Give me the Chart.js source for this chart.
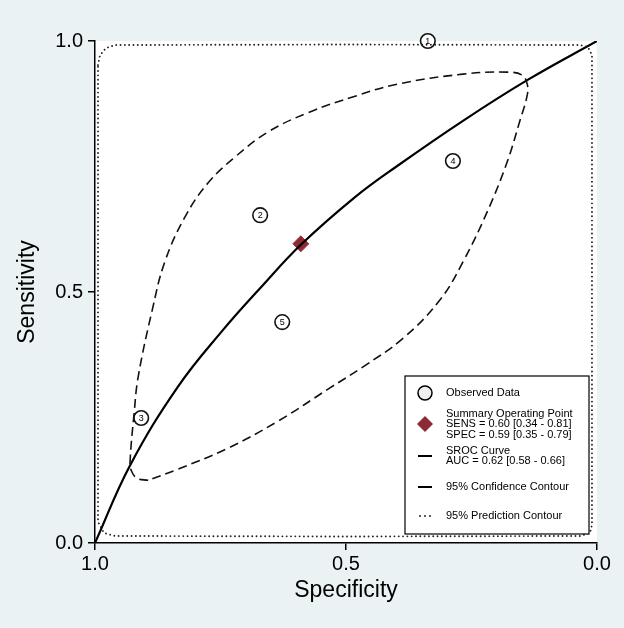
<!DOCTYPE html>
<html>
<head>
<meta charset="utf-8">
<script src="https://cdn.jsdelivr.net/npm/chart.js@4.4.1/dist/chart.umd.min.js"></script>
<style>
body{margin:0;background:#eaf2f4}
canvas{display:block}
</style>
</head>
<body>
<canvas id="myChart" width="624" height="628"></canvas>
<script>
// datos (especificidad, sensibilidad)
const studyIds = ["1", "2", "3", "4", "5"]
const studySpec = [0.337, 0.671, 0.908, 0.287, 0.627]
const studySens = [1.000, 0.653, 0.249, 0.761, 0.440]

const summarySpec = [0.590]
const summarySens = [0.596]

const srocSpec = [1.000, 0.930, 0.835, 0.747, 0.667, 0.590, 0.482, 0.398, 0.267, 0.139, 0.000]
const srocSens = [0.000, 0.155, 0.311, 0.422, 0.512, 0.594, 0.689, 0.751, 0.841, 0.922, 1.000]

const confSpec = [0.894, 0.916, 0.928, 0.930, 0.922, 0.914, 0.886, 0.861, 0.821, 0.775, 0.721, 0.655, 0.576, 0.482, 0.398, 0.267, 0.179, 0.149, 0.139, 0.139, 0.153, 0.179, 0.219, 0.267, 0.313, 0.386, 0.466, 0.532, 0.635, 0.735, 0.835, 0.894]
const confSens = [0.125, 0.129, 0.145, 0.165, 0.259, 0.331, 0.464, 0.560, 0.649, 0.717, 0.769, 0.819, 0.857, 0.890, 0.914, 0.934, 0.938, 0.932, 0.914, 0.892, 0.843, 0.759, 0.659, 0.560, 0.484, 0.408, 0.351, 0.309, 0.243, 0.189, 0.147, 0.125]

const predSpec = [0.994, 0.990, 0.978, 0.960, 0.500, 0.034, 0.018, 0.010, 0.010, 0.014, 0.034, 0.500, 0.960, 0.982, 0.994, 0.994]
const predSens = [0.952, 0.972, 0.986, 0.992, 0.993, 0.992, 0.988, 0.972, 0.036, 0.020, 0.014, 0.013, 0.014, 0.020, 0.042, 0.952]

const xTicks = [1.0, 0.5, 0.0]
const yTicks = [0.0, 0.5, 1.0]

const legendItems = [
    { symbol: "circle", lines: ["Observed Data"] },
    { symbol: "diamond", lines: ["Summary Operating Point", "SENS = 0.60 [0.34 - 0.81]", "SPEC = 0.59 [0.35 - 0.79]"] },
    { symbol: "line", lines: ["SROC Curve", "AUC = 0.62 [0.58 - 0.66]"] },
    { symbol: "line", lines: ["95% Confidence Contour"] },
    { symbol: "dots", lines: ["95% Prediction Contour"] }
]

const toXY = (xs, ys) => xs.map((x, i) => ({ x: x, y: ys[i] }))

const fuente = "'Liberation Sans', Arial, sans-serif"
const rojo = "#8c2b35"

// fondo gris azulado y area blanca
const fondo = {
    id: "fondo",
    beforeDraw(chart) {
        const { ctx, chartArea: a } = chart
        ctx.save()
        ctx.fillStyle = "#eaf2f4"
        ctx.fillRect(0, 0, chart.width, chart.height)
        ctx.fillStyle = "#ffffff"
        ctx.fillRect(a.left, a.top, a.right - a.left, a.bottom - a.top)
        ctx.restore()
    }
}

// numeros dentro de los circulos
const numeros = {
    id: "numeros",
    afterDatasetsDraw(chart) {
        const ctx = chart.ctx
        const meta = chart.getDatasetMeta(3)
        ctx.save()
        ctx.fillStyle = "#000"
        ctx.font = "9px " + fuente
        ctx.textAlign = "center"
        ctx.textBaseline = "middle"
        meta.data.forEach((p, i) => ctx.fillText(studyIds[i], p.x, p.y + 0.5))
        ctx.restore()
    }
}

// leyenda dibujada a mano
const leyenda = {
    id: "leyenda",
    afterDraw(chart) {
        const ctx = chart.ctx
        const a = chart.chartArea
        const w = 184, h = 158
        const x0 = a.right - 8 - w, y0 = a.bottom - 9 - h
        ctx.save()
        ctx.fillStyle = "#fff"
        ctx.strokeStyle = "#000"
        ctx.lineWidth = 1.2
        ctx.fillRect(x0, y0, w, h)
        ctx.strokeRect(x0, y0, w, h)

        const centros = [17, 48, 80, 111, 140]
        const sx = x0 + 20, tx = x0 + 41
        ctx.font = "11px " + fuente
        ctx.textBaseline = "middle"
        ctx.textAlign = "left"
        legendItems.forEach((item, i) => {
            const cy = y0 + centros[i]
            ctx.strokeStyle = "#000"
            ctx.fillStyle = "#000"
            if (item.symbol === "circle") {
                ctx.beginPath()
                ctx.arc(sx, cy, 7, 0, Math.PI * 2)
                ctx.fillStyle = "#f0f0f0"
                ctx.fill()
                ctx.lineWidth = 1.5
                ctx.stroke()
            } else if (item.symbol === "diamond") {
                ctx.beginPath()
                ctx.moveTo(sx - 8, cy); ctx.lineTo(sx, cy - 8)
                ctx.lineTo(sx + 8, cy); ctx.lineTo(sx, cy + 8)
                ctx.closePath()
                ctx.fillStyle = rojo
                ctx.fill()
            } else if (item.symbol === "line") {
                ctx.lineWidth = 2
                ctx.beginPath()
                ctx.moveTo(sx - 7, cy); ctx.lineTo(sx + 7, cy)
                ctx.stroke()
            } else {
                for (let k = -1; k <= 1; k++) ctx.fillRect(sx + k * 5 - 0.8, cy - 0.8, 1.6, 1.6)
            }
            ctx.fillStyle = "#000"
            const n = item.lines.length
            item.lines.forEach((t, j) => {
                ctx.fillText(t, tx, cy + (j - (n - 1) / 2) * 10.5)
            })
        })
        ctx.restore()
    }
}

const ctx = document.getElementById("myChart")

new Chart(ctx, {
    type: "scatter",
    data: {
        datasets: [
            {
                label: "95% Prediction Contour",
                data: toXY(predSpec, predSens),
                showLine: true,
                borderColor: "#222",
                borderWidth: 1.9,
                borderDash: [0.01, 4.3],
                borderCapStyle: "round",
                pointRadius: 0,
                tension: 0,
                clip: false
            },
            {
                label: "95% Confidence Contour",
                data: toXY(confSpec, confSens),
                showLine: true,
                borderColor: "#111",
                borderWidth: 1.6,
                borderDash: [9, 5],
                pointRadius: 0,
                tension: 0.4
            },
            {
                label: "SROC Curve",
                data: toXY(srocSpec, srocSens),
                showLine: true,
                borderColor: "#000",
                borderWidth: 2.2,
                pointRadius: 0,
                tension: 0.4
            },
            {
                label: "Observed Data",
                data: toXY(studySpec, studySens),
                pointStyle: "circle",
                pointRadius: 7.3,
                pointBackgroundColor: "#fff",
                pointBorderColor: "#111",
                pointBorderWidth: 1.6,
                clip: false
            },
            {
                label: "Summary Operating Point",
                data: toXY(summarySpec, summarySens),
                pointStyle: "rectRot",
                pointRadius: 8,
                pointBackgroundColor: rojo,
                pointBorderColor: "#9c3a43",
                pointBorderWidth: 1
            }
        ]
    },
    options: {
        responsive: false,
        animation: false,
        layout: { padding: { top: 41, right: 27, left: 0, bottom: 0 } },
        plugins: {
            legend: { display: false },
            tooltip: { enabled: false }
        },
        scales: {
            x: {
                type: "linear",
                reverse: true,
                min: 0,
                max: 1,
                afterFit: s => { s.height = 85 },
                afterBuildTicks: s => { s.ticks = xTicks.map(v => ({ value: v })) },
                ticks: {
                    color: "#000",
                    font: { family: fuente, size: 20 },
                    padding: 2,
                    maxRotation: 0,
                    callback: v => v.toFixed(1)
                },
                grid: { drawOnChartArea: false, drawTicks: true, tickLength: 7, color: "#000", lineWidth: 1.5 },
                border: { display: true, color: "#000", width: 1.5 },
                title: {
                    display: true,
                    text: "Specificity",
                    color: "#000",
                    font: { family: fuente, size: 23 },
                    padding: { top: 0, bottom: 24 }
                }
            },
            y: {
                type: "linear",
                min: 0,
                max: 1,
                afterFit: s => { s.width = 95 },
                afterBuildTicks: s => { s.ticks = yTicks.map(v => ({ value: v })) },
                ticks: {
                    color: "#000",
                    font: { family: fuente, size: 20 },
                    padding: 5,
                    callback: v => v.toFixed(1)
                },
                grid: { drawOnChartArea: false, drawTicks: true, tickLength: 7, color: "#000", lineWidth: 1.5 },
                border: { display: true, color: "#000", width: 1.5 },
                title: {
                    display: true,
                    text: "Sensitivity",
                    color: "#000",
                    font: { family: fuente, size: 23 },
                    padding: { top: 14, bottom: 0 }
                }
            }
        }
    },
    plugins: [fondo, numeros, leyenda]
})
</script>
</body>
</html>
